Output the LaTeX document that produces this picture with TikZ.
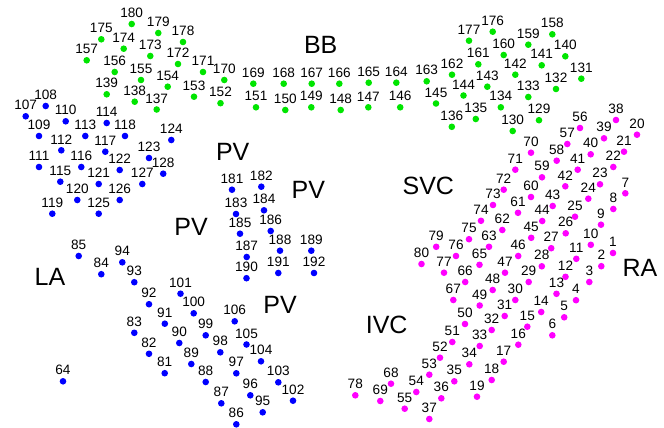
\documentclass[tikz,border=0pt]{standalone}
\usepackage{fontspec}
\setmainfont{Liberation Sans}
\definecolor{dg}{rgb}{0,0.9,0}
\definecolor{db}{rgb}{0,0,1}
\definecolor{dm}{rgb}{1,0,1}
\begin{document}
\begin{tikzpicture}[x=1pt,y=-1pt,
  dotbase/.style={circle,inner sep=0pt,minimum size=6.6pt,draw=none},
  gdot/.style={dotbase,fill=dg},
  bdot/.style={dotbase,fill=db},
  mdot/.style={dotbase,fill=dm},
  lab/.style={inner sep=0pt,font=\fontsize{13.6}{14}\selectfont},
  region/.style={inner sep=0pt,font=\fontsize{25}{26}\selectfont}]
\useasboundingbox (0,0) rectangle (664,428);
\foreach \n/\x/\y in {180/131.7/24, 179/158.3/33, 178/183/42, 175/101.3/39.3, 174/123.7/48.7, 173/150.3/56, 157/86.7/60.3, 172/178/64, 171/203/72, 170/224.3/80, 156/114.7/72, 155/141/80, 154/167.7/86.7, 153/194/96.7, 152/220.5/103.2, 139/106.7/94.3, 138/134.7/101.7, 137/156.7/109.5,
169/253.3/83.7, 168/283.7/83.7, 167/311.7/83.7, 166/339.3/83.7, 165/368.7/82.7, 164/396.3/82.7, 163/426.7/81.3, 162/452/74.7,
151/256/107.3, 150/285.3/110, 149/311.3/107.3, 148/340.7/110, 147/368.3/107.3, 146/400.2/107.3, 145/436/103.5, 144/463.5/95.5,
176/492.7/31.7, 177/469/40.7, 158/552.3/34.3, 159/528.3/44.7, 160/503.7/55, 140/565.3/56.3, 161/478.3/64.3, 141/541.7/65.3, 142/515.3/74.7, 131/581.3/78.7, 143/487.3/86.7, 132/556/89, 133/528.3/97, 134/500.8/107.3, 135/475.8/119, 129/539/120.2, 136/451.8/126.8, 130/512.7/131}
  \node[gdot,label={[lab,label distance=2.6pt]above:\n}] (p\n) at (\x,\y) {};
\foreach \n/\x/\y in {108/45.7/106, 107/25.7/116.3, 110/65.7/121.3, 114/106.7/123, 109/39/136, 113/85.3/136, 118/125/136, 124/171.3/140, 112/61.3/150.3, 117/105.3/151.7, 123/149/158, 111/39/167, 116/81.3/167, 122/119.7/170, 128/163.2/173.7, 115/60.3/181.7, 121/98.7/184, 127/142.3/184, 120/77.3/200, 126/119.7/200, 119/52.3/213.7, 125/98.7/213.7,
181/232/189.7, 182/261.3/186.7, 183/236/214, 184/264/210.3, 185/240/233.7, 186/270.7/231, 187/246.7/257, 188/280/250.7, 189/311.3/250.7, 190/246.5/278.2, 191/278.3/273, 192/314/273,
85/78.7/256, 94/122.3/262.3, 84/101.3/274.2, 93/134.3/282.2, 92/149/304.2, 91/164.8/323.7, 83/134.3/332.8, 82/149/353.8, 81/164.7/373.2, 64/63/381.3,
101/180.5/293.7, 100/193.7/313.3, 106/234.7/321.3, 99/205.7/335.3, 90/179.3/343, 105/246.5/344.5, 98/220.3/352.3, 104/261/361.3, 89/191.3/364, 97/236.3/373.3, 88/205.7/382, 103/278.3/382.3, 96/250.3/395.3, 102/293/400.7, 87/221.3/403.3, 95/262.7/412.3, 86/236.3/424.3}
  \node[bdot,label={[lab,label distance=2.6pt]above:\n}] (p\n) at (\x,\y) {};
\foreach \n/\x/\y in {38/616/120, 20/637/134.7, 56/580/128, 39/604/138.3, 57/567.3/144, 21/624/151.7, 40/590.7/154.3, 70/531/152.7, 58/556.7/160.7, 22/613.3/167, 41/577.7/169.7, 71/515.3/169.7, 59/542/177.3, 23/600/184.3, 42/565.3/186.3, 72/503.7/189.7, 7/625.3/193.3, 60/531/197, 24/588.3/198.7, 73/493/205, 43/552.7/206, 8/613.3/209, 61/518/212.8, 25/575/216.7, 74/481/220.8, 44/542.2/221, 9/601/224.7, 62/502.3/230, 26/565.7/233.3, 75/469/239.2, 45/531.2/237.8, 10/590.8/244.8, 1/613/253,
79/436.2/246.8, 76/456/256, 63/489/246.8, 80/421.5/264, 77/444/272.7, 65/479.5/264.8, 46/518.2/256, 27/551.2/248.2, 11/576.3/258.8, 2/601.3/266.2, 28/541.8/266.3, 47/505/272.7, 66/465.2/282, 29/528.7/282, 12/565.5/276.8, 3/589.3/282, 48/492.7/290, 13/556.5/293.8, 67/453.3/300, 30/515.3/300, 4/576/300.2, 49/479.7/305.5, 14/541.2/312, 31/504.7/316, 5/564.2/317.3, 50/465/324, 32/491.7/330, 15/527.3/326.7, 6/552.3/335.3, 51/452.3/342, 33/479.7/346, 16/518.3/344.7, 52/440/357.7, 34/469.3/364.3, 17/503.7/361.7, 53/429.3/374.7, 35/454.3/381.3, 18/491.7/380, 68/391/383.7, 54/416.3/392, 36/441.3/398.3, 19/477/396.7, 78/355.3/395.3, 69/380.3/401, 55/404.7/408.7, 37/429.3/419}
  \node[mdot,label={[lab,label distance=2.6pt]above:\n}] (p\n) at (\x,\y) {};
\node[region] (bb) at (320.7,45) {BB};
\node[region] (svc) at (428.3,185.7) {SVC};
\node[region] (ra) at (640,268.3) {RA};
\node[region] (ivc) at (386.7,325) {IVC};
\node[region] (la) at (50,277.3) {LA};
\node[region] (pva) at (232.7,152) {PV};
\node[region] (pvb) at (308.3,190) {PV};
\node[region] (pvc) at (191,226.7) {PV};
\node[region] (pvd) at (280,305) {PV};
\end{tikzpicture}
\end{document}
